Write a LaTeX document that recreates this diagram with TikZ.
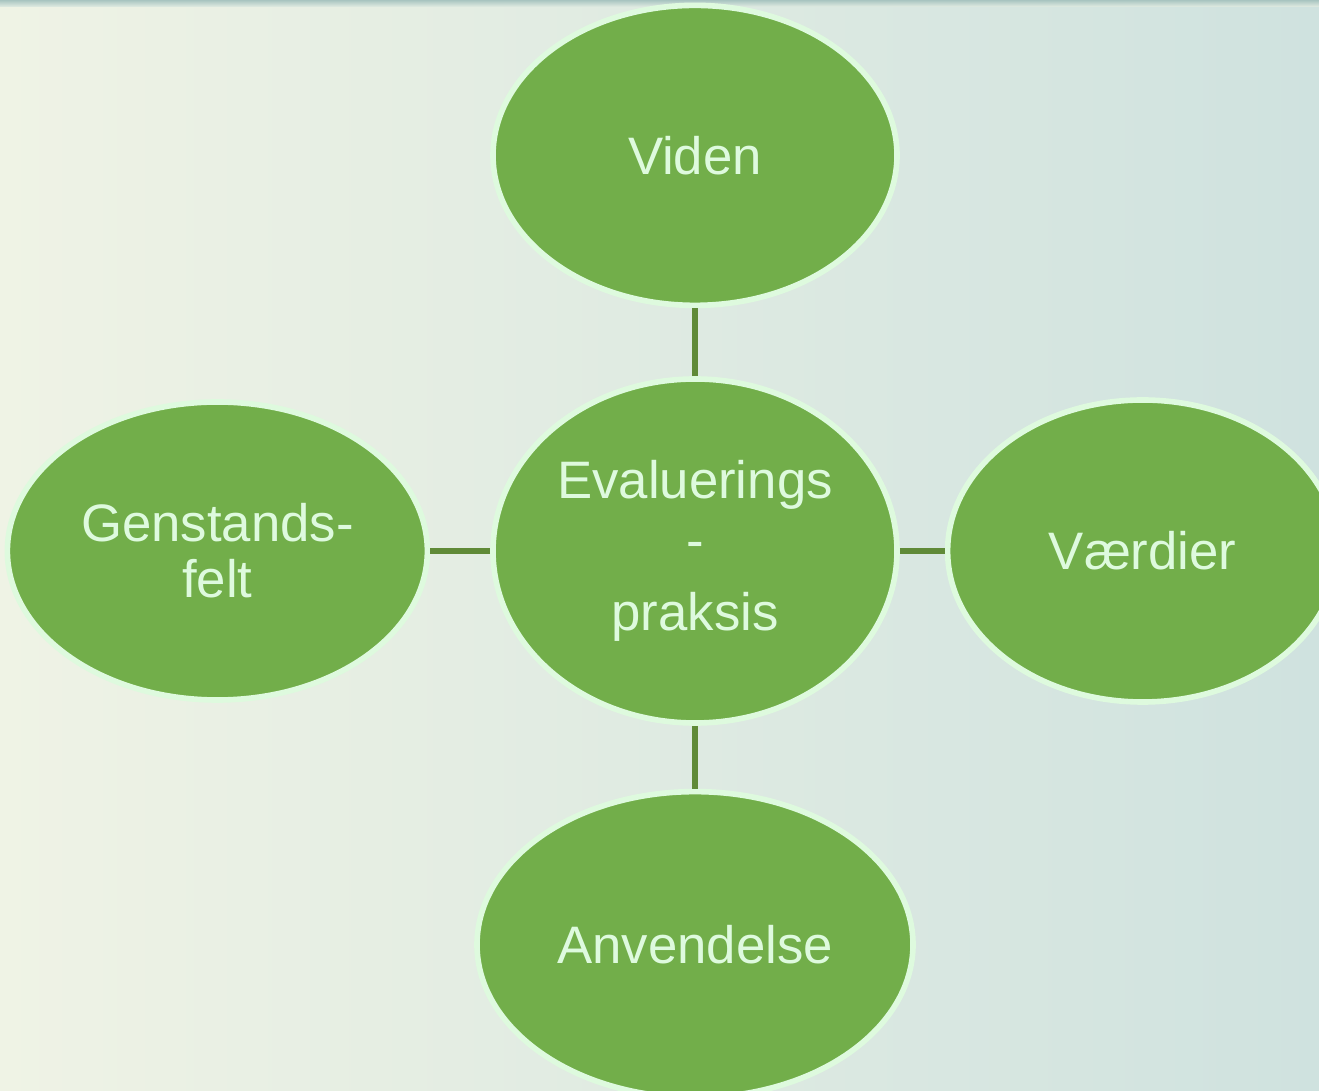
\documentclass[tikz,border=0pt]{standalone}
\usepackage{fontspec}
\setmainfont{Liberation Sans}
\usetikzlibrary{positioning}
\usetikzlibrary{shapes.geometric}

\definecolor{leafgreen}{RGB}{114,174,74}
\definecolor{paleedge}{RGB}{222,250,222}
\definecolor{stemgreen}{RGB}{96,138,56}
\definecolor{bgcream}{RGB}{239,243,229}
\definecolor{bgblue}{RGB}{207,226,223}
\definecolor{bgtop}{RGB}{168,196,192}

\begin{document}
\begin{tikzpicture}[
            link/.style = {draw = stemgreen, line width = 1.6pt}, % connector style
            node distance = 7mm % gap between ellipses
        ]

        \tikzstyle{topic}=[
            ellipse,
            draw = paleedge,
            line width = 1.6pt,
            fill = leafgreen,
            text = paleedge,
            inner sep = 0pt,
            align = center,
            font = \fontsize{15}{17}\selectfont
        ]

        \useasboundingbox (0,0) rectangle (13.19,10.91);

	% background
        \fill[left color = bgcream, right color = bgblue] (0,0) rectangle (13.19,10.91);
        \fill[top color = bgtop, bottom color = bgcream!60!bgblue] (0,10.84) rectangle (13.19,10.91);
        \clip (0,0) rectangle (13.19,10.91);

	% centre
        \node[topic, minimum width = 4.04cm, minimum height = 3.44cm] (E) at (6.95,5.40)
            {Evaluerings\\-\\[0.12cm]praksis};

	% around the centre
        \node[topic, minimum width = 4.04cm, minimum height = 3.00cm] (V) [above = 6.8mm of E] {Viden};
        \node[topic, minimum width = 4.20cm, minimum height = 2.98cm] (G) [left = 6mm of E] {Genstands-\\[-0.04cm]felt};
        \node[topic, minimum width = 3.90cm, minimum height = 3.02cm] (R) [right = 4.5mm of E] {Værdier};
        \node[topic, minimum width = 4.36cm, minimum height = 3.06cm] (A) [below = 6.3mm of E] {Anvendelse};

        \path[link] (E) -- (V);
        \path[link] (E) -- (G);
        \path[link] (E) -- (R);
        \path[link] (E) -- (A);

\end{tikzpicture}
\end{document}
